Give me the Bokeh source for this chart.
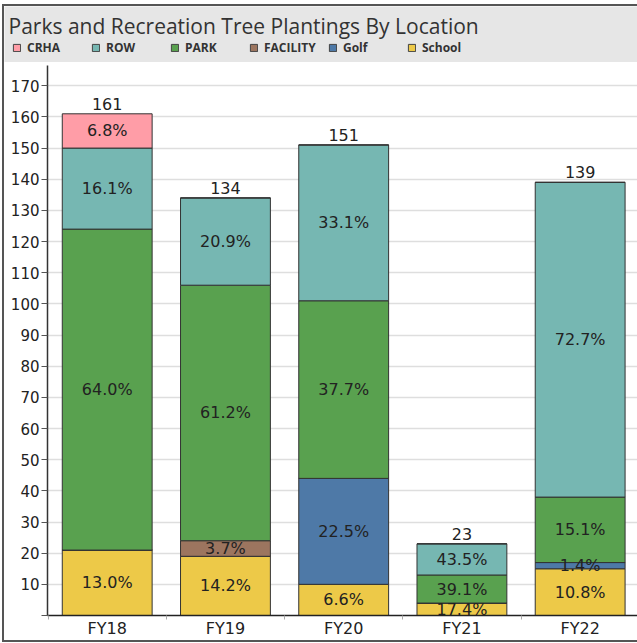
from bokeh.plotting import figure
from bokeh.models import ColumnDataSource, Range1d, FixedTicker, Legend, LegendItem
from bokeh.layouts import column
from bokeh.embed import file_html
from bokeh.resources import INLINE
from bokeh.core.properties import value

# ---------------- data ----------------
title_text = "Parks and Recreation Tree Plantings By Location"
years = ["FY18", "FY19", "FY20", "FY21", "FY22"]
stack_order = ["School", "Golf", "FACILITY", "PARK", "ROW", "CRHA"]   # bottom -> top
legend_order = ["CRHA", "ROW", "PARK", "FACILITY", "Golf", "School"]
school = [21, 19, 10, 4, 15]
golf = [0, 0, 34, 0, 2]
facility = [0, 5, 0, 0, 0]
park = [103, 82, 57, 9, 21]
row = [26, 28, 50, 10, 101]
crha = [11, 0, 0, 0, 0]
y_ticks = [0, 10, 20, 30, 40, 50, 60, 70, 80, 90, 100, 110, 120, 130, 140, 150, 160, 170]
colors = {"CRHA": "#ff9da7", "ROW": "#76b7b2", "PARK": "#59a14f",
          "FACILITY": "#9c755f", "Golf": "#4e79a7", "School": "#edc948"}

values = {"School": school, "Golf": golf, "FACILITY": facility,
          "PARK": park, "ROW": row, "CRHA": crha}

W = 633
HH = 56
MH = 578
LABEL_FONT = value("DejaVu Sans")

# ---------------- header ----------------
hdr = figure(width=W, height=HH, x_range=Range1d(0, W), y_range=Range1d(HH, 0),
             toolbar_location=None, output_backend="svg", min_border=0,
             x_axis_type=None, y_axis_type=None,
             background_fill_color="#e6e6e6", border_fill_color="#e6e6e6",
             outline_line_color=None)
hdr.frame_align = False
hdr.grid.visible = False
hdr.text(x=[4], y=[19], text=[title_text], text_font=value("Open Sans"),
         text_font_size="21px", text_color="#333333", text_baseline="alphabetic")

dummy = {}
for name in legend_order:
    # legend swatch carriers, kept outside the visible header area
    dummy[name] = hdr.quad(left=[-50], right=[-40], top=[-50], bottom=[-40],
                           fill_color=colors[name], line_color="#444444", line_width=1)
legend = Legend(items=[LegendItem(label=n, renderers=[dummy[n]]) for n in legend_order],
                orientation="horizontal", location=(8, 6),
                glyph_width=9, glyph_height=9, label_standoff=6, label_width=60,
                label_height=14, spacing=4, padding=0, margin=0,
                border_line_color=None, background_fill_alpha=0,
                label_text_font="Open Sans", label_text_font_size="12px",
                label_text_font_style="bold", label_text_color="#333333")
hdr.add_layout(legend)

# ---------------- main chart ----------------
xs = list(range(len(years)))
src = ColumnDataSource(dict(x=xs, **values))

p = figure(width=W, height=MH, x_range=Range1d(-0.505, 4.485), y_range=Range1d(0, 176.5),
           toolbar_location=None, output_backend="svg",
           min_border_left=43, min_border_right=0, min_border_top=3, min_border_bottom=0,
           outline_line_color=None, background_fill_color="white", border_fill_color="white")
p.frame_align = False

p.vbar_stack(stack_order, x="x", width=0.76, source=src,
             color=[colors[s] for s in stack_order],
             line_color="#333333", line_width=1)

# segment labels
lx, ly, lt = [], [], []
for i in range(len(years)):
    total = sum(values[s][i] for s in stack_order)
    base = 0
    for s in stack_order:
        v = values[s][i]
        if v > 0:
            lx.append(xs[i])
            ly.append(base + v / 2)
            lt.append("%.1f%%" % (v / total * 100))
        base += v
p.text(x="x", y="y", text="t", source=ColumnDataSource(dict(x=lx, y=ly, t=lt)),
       text_align="center", text_baseline="middle", text_font=LABEL_FONT,
       text_font_size="16px", text_color="#222222")

totals = [sum(values[s][i] for s in stack_order) for i in range(len(years))]
p.text(x=xs, y=totals, text=[str(t) for t in totals],
       text_align="center", text_baseline="bottom", y_offset=-4, text_font=LABEL_FONT,
       text_font_size="16px", text_color="#222222")

# axes
p.yaxis.ticker = FixedTicker(ticks=y_ticks)
p.yaxis.major_label_overrides = {0: ""}
p.yaxis.major_label_text_font = "DejaVu Sans"
p.yaxis.major_label_text_font_size = "15px"
p.yaxis.major_label_text_color = "#222222"
p.yaxis.major_tick_out = 6
p.yaxis.major_tick_in = 0
p.yaxis.major_label_standoff = 2
p.yaxis.minor_tick_line_color = None
p.yaxis.axis_line_color = "#333333"
p.yaxis.axis_line_width = 1.5
p.yaxis.major_tick_line_color = "#555555"

p.xaxis.ticker = FixedTicker(ticks=xs, minor_ticks=[-0.5, 0.5, 1.5, 2.5, 3.5])
p.xaxis.major_label_overrides = {i: years[i] for i in xs}
p.xaxis.major_label_text_font = "DejaVu Sans"
p.xaxis.major_label_text_font_size = "16px"
p.xaxis.major_label_text_color = "#222222"
p.xaxis.major_tick_line_color = None
p.xaxis.major_tick_out = 0
p.xaxis.major_label_standoff = -1
p.xaxis.minor_tick_out = 4
p.xaxis.minor_tick_in = 0
p.xaxis.minor_tick_line_color = "#aaaaaa"
p.xaxis.axis_line_color = "#222222"
p.xaxis.axis_line_width = 1.5

p.xgrid.visible = False
p.ygrid.ticker = FixedTicker(ticks=y_ticks)
p.ygrid.grid_line_color = "#dedede"
p.ygrid.grid_line_width = 1.5

layout = column(hdr, p, spacing=0,
                styles={"margin": "4px 0 0 2px", "border": "2px solid #555555",
                        "border-right": "none"})

open("out.html", "w").write(file_html(layout, INLINE))
